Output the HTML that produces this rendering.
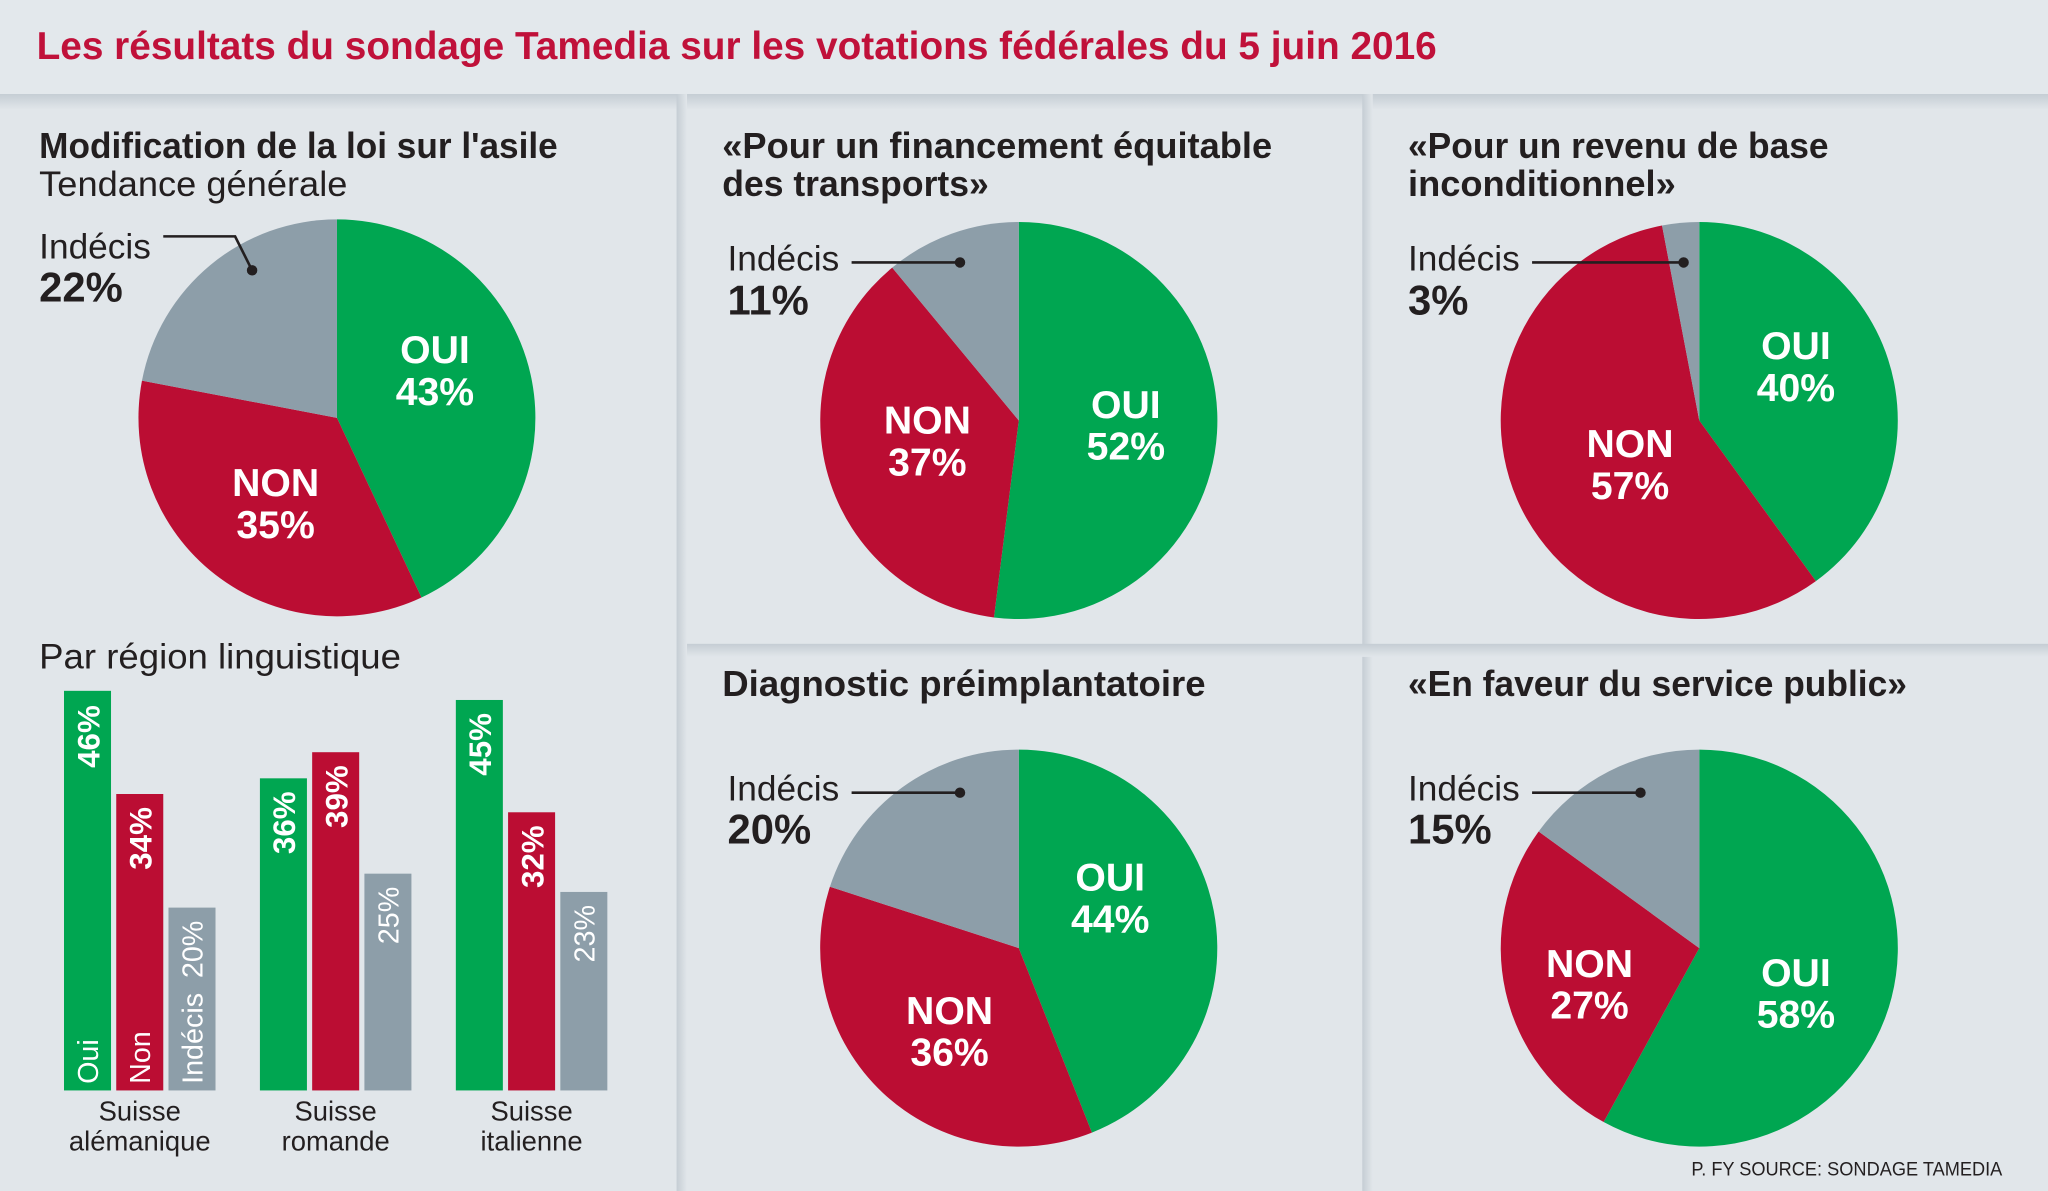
<!DOCTYPE html>
<html><head><meta charset="utf-8"><style>
html,body{margin:0;padding:0;background:#e1e6ea}
svg{display:block}
text{font-family:"Liberation Sans Narrow","Liberation Sans",sans-serif}
.b{font-weight:bold}
.w{fill:#fff}
.t{fill:#231f20}
</style></head><body>
<svg width="2048" height="1191" viewBox="0 0 1568 912" preserveAspectRatio="none" xmlns="http://www.w3.org/2000/svg">
<defs>
<linearGradient id="hs" x1="0" y1="0" x2="0" y2="1"><stop offset="0" stop-color="#c5cdd4"/><stop offset="1" stop-color="#e1e6ea"/></linearGradient>
<linearGradient id="vs" x1="0" y1="0" x2="1" y2="0"><stop offset="0" stop-color="#c5cdd4"/><stop offset="1" stop-color="#e1e6ea"/></linearGradient>
</defs>
<rect width="1568" height="912" fill="#e1e6ea"/>
<rect width="1568" height="72" fill="#e3e8ec"/>
<rect y="72" width="1568" height="12" fill="url(#hs)"/>
<rect x="518" y="72" width="8" height="840" fill="url(#vs)"/>
<rect x="1043" y="72" width="8" height="840" fill="url(#vs)"/>
<rect x="526" y="493" width="1042" height="10" fill="url(#hs)"/>

<text x="28" y="45" class="b" font-size="30" fill="#c0113a" textLength="1072" lengthAdjust="spacingAndGlyphs">Les résultats du sondage Tamedia sur les votations fédérales du 5 juin 2016</text>

<!-- Panel 1 -->
<text x="30" y="121" class="b t" font-size="28" textLength="397" lengthAdjust="spacingAndGlyphs">Modification de la loi sur l'asile</text>
<text x="30" y="150" class="t" font-size="27" textLength="236" lengthAdjust="spacingAndGlyphs">Tendance générale</text>
<path d="M258,320 L258,168 A152,152 0 0 1 322.7,457.5 Z" fill="#00a651"/>
<path d="M258,320 L322.7,457.5 A152,152 0 0 1 108.7,291.5 Z" fill="#bb0d33"/>
<path d="M258,320 L108.7,291.5 A152,152 0 0 1 258,168 Z" fill="#8d9ea9"/>
<text x="30" y="198" class="t" font-size="27">Indécis</text>
<text x="30" y="231" class="b t" font-size="32">22%</text>
<polyline points="125,181 180,181 193,207" fill="none" stroke="#231f20" stroke-width="2"/>
<circle cx="193" cy="207" r="4" fill="#231f20"/>
<g class="b w" font-size="30" text-anchor="middle">
<text x="333" y="278">OUI</text><text x="333" y="310">43%</text>
<text x="211" y="380">NON</text><text x="211" y="412">35%</text>
</g>
<text x="30" y="512" class="t" font-size="27" textLength="277" lengthAdjust="spacingAndGlyphs">Par région linguistique</text>
<rect x="49" y="529" width="36" height="306" fill="#00a651"/>
<rect x="89" y="608" width="36" height="227" fill="#bb0d33"/>
<rect x="129" y="695" width="36" height="140" fill="#8d9ea9"/>
<rect x="199" y="596" width="36" height="239" fill="#00a651"/>
<rect x="239" y="576" width="36" height="259" fill="#bb0d33"/>
<rect x="279" y="669" width="36" height="166" fill="#8d9ea9"/>
<rect x="349" y="536" width="36" height="299" fill="#00a651"/>
<rect x="389" y="622" width="36" height="213" fill="#bb0d33"/>
<rect x="429" y="683" width="36" height="152" fill="#8d9ea9"/>
<g class="w" text-anchor="end">
<text class="b" font-size="24" transform="translate(76,540) rotate(-90)">46%</text>
<text class="b" font-size="24" transform="translate(116,618) rotate(-90)">34%</text>
<text font-size="22" transform="translate(155,705) rotate(-90)">20%</text>
<text class="b" font-size="24" transform="translate(226,606) rotate(-90)">36%</text>
<text class="b" font-size="24" transform="translate(266,586) rotate(-90)">39%</text>
<text font-size="22" transform="translate(305,679) rotate(-90)">25%</text>
<text class="b" font-size="24" transform="translate(376,546) rotate(-90)">45%</text>
<text class="b" font-size="24" transform="translate(416,632) rotate(-90)">32%</text>
<text font-size="22" transform="translate(455,693) rotate(-90)">23%</text>
</g>
<g class="w" font-size="22">
<text transform="translate(75,830) rotate(-90)">Oui</text>
<text transform="translate(115,830) rotate(-90)">Non</text>
<text transform="translate(155,830) rotate(-90)">Indécis</text>
</g>
<g class="t" font-size="21" text-anchor="middle">
<text x="107" y="858">Suisse</text><text x="107" y="881">alémanique</text>
<text x="257" y="858">Suisse</text><text x="257" y="881">romande</text>
<text x="407" y="858">Suisse</text><text x="407" y="881">italienne</text>
</g>

<!-- Panel 2 -->
<text x="553" y="121" class="b t" font-size="28" textLength="421" lengthAdjust="spacingAndGlyphs">«Pour un financement équitable</text>
<text x="553" y="150" class="b t" font-size="28" textLength="204" lengthAdjust="spacingAndGlyphs">des transports»</text>
<path d="M780,322 L780,170 A152,152 0 1 1 761,472.8 Z" fill="#00a651"/>
<path d="M780,322 L761,472.8 A152,152 0 0 1 683.1,204.9 Z" fill="#bb0d33"/>
<path d="M780,322 L683.1,204.9 A152,152 0 0 1 780,170 Z" fill="#8d9ea9"/>
<text x="557" y="207" class="t" font-size="27">Indécis</text>
<text x="557" y="241" class="b t" font-size="32">11%</text>
<line x1="652" y1="201" x2="735" y2="201" stroke="#231f20" stroke-width="2"/>
<circle cx="735" cy="201" r="4" fill="#231f20"/>
<g class="b w" font-size="30" text-anchor="middle">
<text x="862" y="320">OUI</text><text x="862" y="352">52%</text>
<text x="710" y="332">NON</text><text x="710" y="364">37%</text>
</g>

<!-- Panel 3 -->
<text x="1078" y="121" class="b t" font-size="28" textLength="322" lengthAdjust="spacingAndGlyphs">«Pour un revenu de base</text>
<text x="1078" y="150" class="b t" font-size="28" textLength="205" lengthAdjust="spacingAndGlyphs">inconditionnel»</text>
<path d="M1301,322 L1301,170 A152,152 0 0 1 1390.3,445 Z" fill="#00a651"/>
<path d="M1301,322 L1390.3,445 A152,152 0 1 1 1272.5,172.7 Z" fill="#bb0d33"/>
<path d="M1301,322 L1272.5,172.7 A152,152 0 0 1 1301,170 Z" fill="#8d9ea9"/>
<text x="1078" y="207" class="t" font-size="27">Indécis</text>
<text x="1078" y="241" class="b t" font-size="32">3%</text>
<line x1="1173" y1="201" x2="1289" y2="201" stroke="#231f20" stroke-width="2"/>
<circle cx="1289" cy="201" r="4" fill="#231f20"/>
<g class="b w" font-size="30" text-anchor="middle">
<text x="1375" y="275">OUI</text><text x="1375" y="307">40%</text>
<text x="1248" y="350">NON</text><text x="1248" y="382">57%</text>
</g>

<!-- Panel 4 -->
<text x="553" y="533" class="b t" font-size="28" textLength="370" lengthAdjust="spacingAndGlyphs">Diagnostic préimplantatoire</text>
<path d="M780,726 L780,574 A152,152 0 0 1 836,867.3 Z" fill="#00a651"/>
<path d="M780,726 L836,867.3 A152,152 0 0 1 635.4,679 Z" fill="#bb0d33"/>
<path d="M780,726 L635.4,679 A152,152 0 0 1 780,574 Z" fill="#8d9ea9"/>
<text x="557" y="613" class="t" font-size="27">Indécis</text>
<text x="557" y="646" class="b t" font-size="32">20%</text>
<line x1="652" y1="607" x2="735" y2="607" stroke="#231f20" stroke-width="2"/>
<circle cx="735" cy="607" r="4" fill="#231f20"/>
<g class="b w" font-size="30" text-anchor="middle">
<text x="850" y="682">OUI</text><text x="850" y="714">44%</text>
<text x="727" y="784">NON</text><text x="727" y="816">36%</text>
</g>

<!-- Panel 5 -->
<text x="1078" y="533" class="b t" font-size="28" textLength="382" lengthAdjust="spacingAndGlyphs">«En faveur du service public»</text>
<path d="M1301,726 L1301,574 A152,152 0 1 1 1227.8,859.2 Z" fill="#00a651"/>
<path d="M1301,726 L1227.8,859.2 A152,152 0 0 1 1178,636.7 Z" fill="#bb0d33"/>
<path d="M1301,726 L1178,636.7 A152,152 0 0 1 1301,574 Z" fill="#8d9ea9"/>
<text x="1078" y="613" class="t" font-size="27">Indécis</text>
<text x="1078" y="646" class="b t" font-size="32">15%</text>
<line x1="1173" y1="607" x2="1256" y2="607" stroke="#231f20" stroke-width="2"/>
<circle cx="1256" cy="607" r="4" fill="#231f20"/>
<g class="b w" font-size="30" text-anchor="middle">
<text x="1375" y="755">OUI</text><text x="1375" y="787">58%</text>
<text x="1217" y="748">NON</text><text x="1217" y="780">27%</text>
</g>

<text x="1295" y="900" class="t" font-size="15" textLength="238" lengthAdjust="spacingAndGlyphs">P. FY SOURCE: SONDAGE TAMEDIA</text>
</svg>
</body></html>
